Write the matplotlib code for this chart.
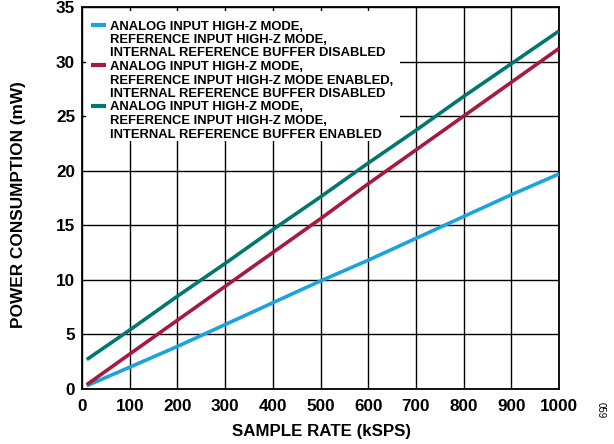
import matplotlib
matplotlib.use("Agg")
import matplotlib.pyplot as plt
from matplotlib.patches import Rectangle
from matplotlib.lines import Line2D

plt.rcParams['font.family'] = ['Liberation Sans', 'DejaVu Sans']

sample_rate = [10, 100, 200, 300, 400, 500, 600, 700, 800, 900, 1000]
blue_vals = [0.3, 2.0, 3.9, 5.9, 7.9, 9.9, 11.8, 13.8, 15.8, 17.8, 19.7]
red_vals = [0.4, 3.2, 6.3, 9.4, 12.5, 15.6, 18.8, 21.9, 25.0, 28.1, 31.2]
teal_vals = [2.7, 5.4, 8.5, 11.5, 14.6, 17.6, 20.7, 23.7, 26.8, 29.8, 32.8]

labels = [
    ["ANALOG INPUT HIGH-Z MODE,", "REFERENCE INPUT HIGH-Z MODE,", "INTERNAL REFERENCE BUFFER DISABLED"],
    ["ANALOG INPUT HIGH-Z MODE,", "REFERENCE INPUT HIGH-Z MODE ENABLED,", "INTERNAL REFERENCE BUFFER DISABLED"],
    ["ANALOG INPUT HIGH-Z MODE,", "REFERENCE INPUT HIGH-Z MODE,", "INTERNAL REFERENCE BUFFER ENABLED"],
]
colors = ["#1aa3dd", "#a8193f", "#00786e"]

W, H = 614, 444
fig = plt.figure(figsize=(W/100, H/100), dpi=100)
ax = fig.add_axes([82/W, 55/H, (559-82)/W, (389-7)/H])

for vals, c in zip([blue_vals, red_vals, teal_vals], colors):
    ax.plot(sample_rate, vals, color=c, lw=2.6, solid_capstyle='butt', zorder=3)

ax.set_xlim(0, 1000)
ax.set_ylim(0, 35)
ax.set_xticks(range(0, 1001, 100))
ax.set_yticks(range(0, 36, 5))
ax.grid(True, color='black', lw=1.0, zorder=0.5)
ax.set_axisbelow(True)
for s in ax.spines.values():
    s.set_linewidth(1.3)
ax.tick_params(length=0, labelsize=12.3, pad=5)
ax.tick_params(axis='x', pad=7)
for t in ax.get_xticklabels() + ax.get_yticklabels():
    t.set_fontweight('bold')

fig.text(321/W, 1 - 431/H, "SAMPLE RATE (kSPS)", fontsize=12.2, fontweight='bold',
         ha='center', va='center')
fig.text(19/W, 1 - 205/H, "POWER CONSUMPTION (mW)", fontsize=12.4, fontweight='bold',
         ha='center', va='center', rotation=90)

# legend drawn manually (handles aligned with first line of each entry)
ax.add_patch(Rectangle((86/W, 1 - 141/H), (400-86)/W, (141-11)/H,
                       transform=fig.transFigure, facecolor='white',
                       edgecolor='none', zorder=2, clip_on=False))
y0, dy = 25, 13.5
for i, (lines, c) in enumerate(zip(labels, colors)):
    yh = y0 + 3*i*dy
    fig.lines.append(Line2D([91/W, 106/W], [1 - yh/H, 1 - yh/H], transform=fig.transFigure,
                            color=c, lw=3, zorder=6, solid_capstyle='butt'))
    for j, line in enumerate(lines):
        yy = y0 + (3*i + j)*dy
        fig.text(110/W, 1 - yy/H, line, fontsize=9.4, fontweight='bold',
                 ha='left', va='center_baseline', zorder=7)

fig.text(601/W, 1 - 410/H, "059", rotation=270, fontsize=7, ha='center', va='center')

fig.savefig("out.png", dpi=100)
